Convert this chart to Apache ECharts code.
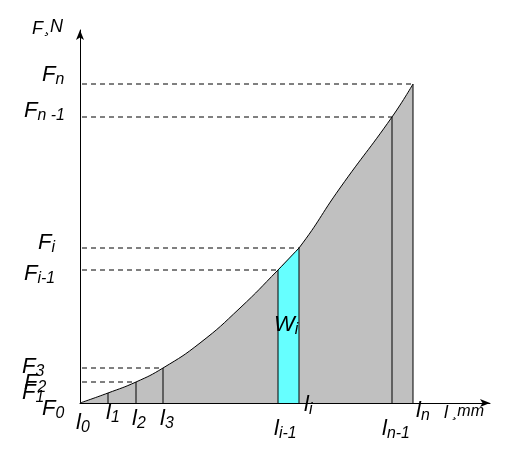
<!DOCTYPE html>
<html><head><meta charset="utf-8">
<script src="https://cdn.jsdelivr.net/npm/echarts@6/dist/echarts.min.js"></script>
<style>html,body{margin:0;background:#fff}#c{width:519px;height:472px}</style>
</head><body><div id="c"></div>
<script>
// curve points (x = displacement, y = force)
var curveX = [0, 28, 56, 83, 120, 160, 198, 219, 260, 312, 333];
var curveY = [0, 10, 21, 35, 60, 95, 133, 155, 215, 286, 319];
// marked points l0..ln
var markX = [28, 56, 83, 198, 219, 312, 333];
var markY = [10, 21, 35, 133, 155, 286, 319];
// dashed force levels
var dashX = [56, 83, 198, 219, 312, 333];
var dashY = [21, 35, 133, 155, 286, 319];

var chart = echarts.init(document.getElementById('c'));
var curve = curveX.map(function (x, i) { return [x, curveY[i]]; });
var series = [{
    type: 'line', data: curve, smooth: true, symbol: 'none', z: 2,
    lineStyle: { color: '#000', width: 1 },
    areaStyle: { color: '#c0c0c0', opacity: 1 }
}, {
    type: 'line', data: [[198, 133], [219, 155]], smooth: true, symbol: 'none', z: 3,
    lineStyle: { color: '#000', width: 1 },
    areaStyle: { color: '#66ffff', opacity: 1 }
}];
markX.forEach(function (x, i) {
    series.push({ type: 'line', data: [[x, 0], [x, markY[i]]], symbol: 'none', z: 4,
        lineStyle: { color: '#000', width: 1 } });
});
dashX.forEach(function (x, i) {
    series.push({ type: 'line', data: [[2, dashY[i]], [x, dashY[i]]], symbol: 'none', z: 4,
        lineStyle: { color: '#000', width: 1, type: [5, 4] } });
});

function lab(x, y, main, sub, size) {
    size = size || 22;
    return { type: 'text', left: x, top: y, z: 10, style: {
        text: '{m|' + main + '}' + (sub ? '{s|' + sub + '}' : ''),
        rich: {
            m: { fontSize: size, fontStyle: 'italic', fontFamily: 'Liberation Sans', fill: '#000' },
            s: { fontSize: size * 0.72, fontStyle: 'italic', fontFamily: 'Liberation Sans', fill: '#000', padding: [size * 0.45, 0, 0, 0] }
        } } };
}

chart.setOption({
    animation: false,
    grid: { left: 80, right: 29, top: 30, bottom: 69 },
    xAxis: { type: 'value', min: 0, max: 410, splitLine: { show: false },
        axisTick: { show: false }, axisLabel: { show: false },
        axisLine: { lineStyle: { color: '#000' }, symbol: ['none', 'arrow'], symbolSize: [6, 10] } },
    yAxis: { type: 'value', min: 0, max: 373, splitLine: { show: false },
        axisTick: { show: false }, axisLabel: { show: false },
        axisLine: { lineStyle: { color: '#000' }, symbol: ['none', 'arrow'], symbolSize: [6, 10] } },
    series: series,
    graphic: [
        lab(32, 20, 'F', null, 18), lab(44, 18, '\u00b8N', null, 18),
        lab(42, 64, 'F', 'n'), lab(24, 100, 'F', 'n -1'),
        lab(38, 232, 'F', 'i'), lab(24, 263, 'F', 'i-1'),
        lab(22, 356, 'F', '3'), lab(24, 372, 'F', '2'), lab(22, 382, 'F', '1'), lab(42, 398, 'F', '0'),
        lab(274, 314, 'W', 'i'),
        lab(76, 412, 'l', '0'), lab(106, 402, 'l', '1'), lab(132, 408, 'l', '2'), lab(160, 408, 'l', '3'),
        lab(274, 418, 'l', 'i-1'), lab(304, 394, 'l', 'i'), lab(382, 418, 'l', 'n-1'), lab(416, 400, 'l', 'n'),
        lab(444, 404, 'l', null, 18), lab(452, 404, '\u00b8mm', null, 16)
    ]
});
</script></body></html>
